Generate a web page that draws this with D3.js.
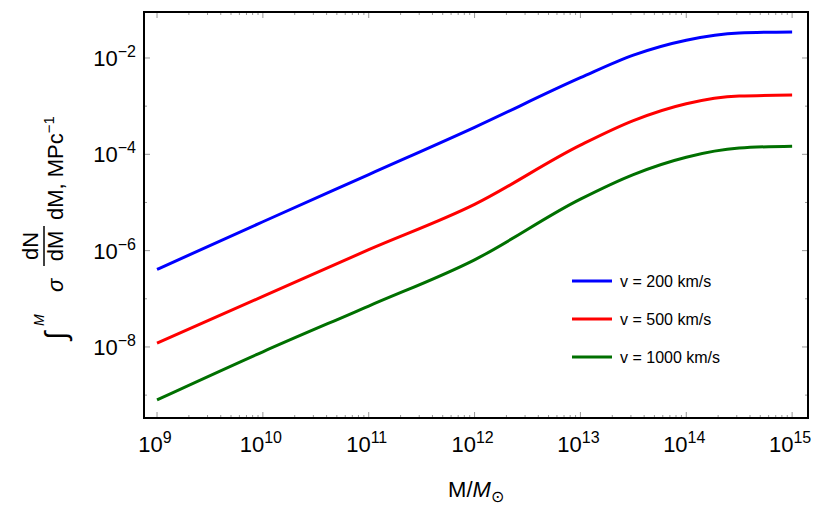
<!DOCTYPE html>
<html><head><meta charset="utf-8">
<script src="https://cdn.jsdelivr.net/npm/d3@7"></script>
<style>body{margin:0;background:#fff}text{font-family:"Liberation Sans",Arial,sans-serif}</style>
</head><body><div id="chart"></div>
<script>
// log10 of M/Msun
const logM = [9, 10, 11, 12, 13, 13.5, 14, 14.5, 15];
// log10 of the integral
const blue = [-6.39, -5.40, -4.42, -3.44, -2.41, -1.94, -1.63, -1.48, -1.46];
const red = [-7.92, -6.95, -5.98, -5.04, -3.81, -3.30, -2.95, -2.79, -2.77];
const green = [-9.10, -8.10, -7.15, -6.19, -4.93, -4.42, -4.06, -3.87, -3.83];
const seriesNames = ["v = 200 km/s", "v = 500 km/s", "v = 1000 km/s"];
const seriesColors = ["#0000ff", "#ff0000", "#007000"];
const xTickExps = [9, 10, 11, 12, 13, 14, 15];
const yTickExps = [-2, -4, -6, -8];

const W = 830, H = 508;
const pLeft = 144, pRight = 808, pTop = 12, pBottom = 418;

const svg = d3.select("#chart").append("svg").attr("width", W).attr("height", H);

const x = d3.scaleLog().domain([Math.pow(10, 8.877), Math.pow(10, 15.15)]).range([pLeft, pRight]);
const y = d3.scaleLog().domain([Math.pow(10, -9.475), Math.pow(10, -1.045)]).range([pBottom, pTop]);

// curves
const line = d3.line().x(d => x(d[0])).y(d => y(d[1])).curve(d3.curveMonotoneX);
[blue, red, green].forEach((s, i) => {
    const pts = logM.map((m, j) => [Math.pow(10, m), Math.pow(10, s[j])]);
    svg.append("path").attr("d", line(pts)).attr("fill", "none")
        .attr("stroke", seriesColors[i]).attr("stroke-width", 3);
});

// ticks, inward on all four sides
const tickG = svg.append("g").attr("stroke", "#999").attr("stroke-width", 1);
for (let e = 9; e <= 15; e++) {
    for (let k = 1; k <= 9; k++) {
        const v = k * Math.pow(10, e);
        if (v > x.domain()[1]) break;
        const len = k === 1 ? 6 : 3, px = x(v);
        tickG.append("line").attr("x1", px).attr("x2", px).attr("y1", pBottom).attr("y2", pBottom - len);
        tickG.append("line").attr("x1", px).attr("x2", px).attr("y1", pTop).attr("y2", pTop + len);
    }
}
for (let e = -9; e <= -2; e++) {
    const len = e % 2 === 0 ? 6 : 3, py = y(Math.pow(10, e));
    tickG.append("line").attr("x1", pLeft).attr("x2", pLeft + len).attr("y1", py).attr("y2", py);
    tickG.append("line").attr("x1", pRight).attr("x2", pRight - len).attr("y1", py).attr("y2", py);
}

svg.append("rect").attr("x", pLeft).attr("y", pTop).attr("width", pRight - pLeft).attr("height", pBottom - pTop)
    .attr("fill", "none").attr("stroke", "#000").attr("stroke-width", 2);

// tick labels
xTickExps.forEach(e => {
    const t = svg.append("text").attr("x", x(Math.pow(10, e)) - 2).attr("y", 452)
        .attr("text-anchor", "middle").attr("font-size", 22);
    t.append("tspan").text("10");
    t.append("tspan").attr("dy", -9).attr("font-size", 16).text(e);
});
yTickExps.forEach(e => {
    const t = svg.append("text").attr("x", 136).attr("y", y(Math.pow(10, e)) + 8)
        .attr("text-anchor", "end").attr("font-size", 22);
    t.append("tspan").text("10");
    t.append("tspan").attr("dy", -9).attr("font-size", 16).text("\u2212" + (-e));
});

// x label
const xl = svg.append("text").attr("x", 476).attr("y", 497).attr("text-anchor", "middle").attr("font-size", 22);
xl.append("tspan").text("M/");
xl.append("tspan").attr("font-style", "italic").text("M");
xl.append("tspan").attr("dy", 5).attr("font-size", 16).text("\u2299");

// y label
const yl = svg.append("g").attr("transform", "translate(64,216) rotate(-90)").attr("font-size", 22);
yl.append("text").attr("x", -124).attr("y", 2).attr("font-size", 30).text("\u222B");
yl.append("text").attr("x", -110).attr("y", -20).attr("font-size", 14).attr("font-style", "italic").text("M");
yl.append("text").attr("x", -76).attr("y", -1).attr("font-style", "italic").text("\u03C3");
yl.append("text").attr("x", -30).attr("y", -26).attr("text-anchor", "middle").text("dN");
yl.append("line").attr("x1", -50).attr("x2", -10).attr("y1", -20).attr("y2", -20).attr("stroke", "#000").attr("stroke-width", 1.5);
yl.append("text").attr("x", -30).attr("y", -1).attr("text-anchor", "middle").text("dM");
const yt = yl.append("text").attr("x", -4).attr("y", -1);
yt.append("tspan").text("dM, MPc");
yt.append("tspan").attr("dy", -9).attr("font-size", 15).text("\u22121");

// legend
seriesNames.forEach((n, i) => {
    const ly = 281 + i * 38;
    svg.append("line").attr("x1", 572).attr("x2", 612).attr("y1", ly).attr("y2", ly)
        .attr("stroke", seriesColors[i]).attr("stroke-width", 3);
    svg.append("text").attr("x", 620).attr("y", ly + 6).attr("font-size", 16).text(n);
});
</script></body></html>
